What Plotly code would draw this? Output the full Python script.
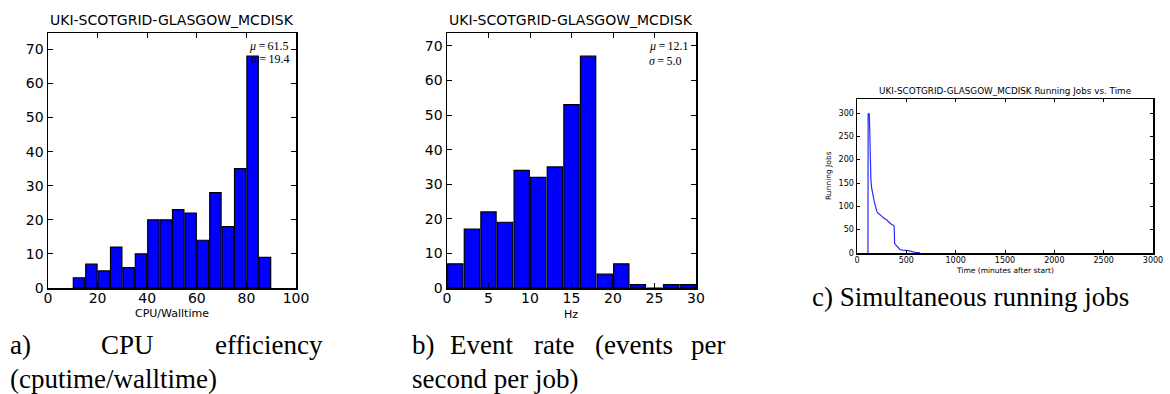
import plotly.graph_objects as go

W, H = 1170, 394

# ---- data ----
cpu_bin_left = [10, 15, 20, 25, 30, 35, 40, 45, 50, 55, 60, 65, 70, 75, 80, 85]
cpu_counts = [3, 7, 5, 12, 6, 10, 20, 20, 23, 22, 14, 28, 18, 35, 68, 9]
cpu_bin_w = 5

hz_bin_left = [0, 2, 4, 6, 8, 10, 12, 14, 16, 18, 20, 22, 24, 26, 28]
hz_counts = [7, 17, 22, 19, 34, 32, 35, 53, 67, 4, 7, 1, 0, 1, 1]
hz_bin_w = 2

run_time = [111, 113, 125, 128, 133, 141, 148, 155, 162, 169, 177, 185, 193, 202, 215,
            236, 255, 270, 290, 303, 320, 337, 350, 364, 372, 377, 379, 381, 390, 405,
            421, 430, 438, 460, 505, 520, 539, 555, 573, 600, 640]
run_jobs = [0, 298, 298, 260, 195, 156, 140, 128, 122, 117, 108, 100, 93, 89, 85,
            82, 78, 75, 73, 71, 67, 63, 61, 60, 59, 57, 40, 21, 18, 15,
            12, 10, 7, 6, 6, 5, 4, 3, 1.5, 1, 1]

title_site = "UKI-SCOTGRID-GLASGOW_MCDISK"

# ---- helpers (pixel -> paper) ----
def px(x):
    return x / W

def py(y):
    return 1 - y / H

fig = go.Figure()

fig.add_trace(go.Bar(
    x=[l + cpu_bin_w / 2 for l in cpu_bin_left], y=cpu_counts, width=cpu_bin_w * 0.92,
    marker=dict(color="#0000ff", line=dict(color="black", width=1.2)),
    xaxis="x", yaxis="y", showlegend=False, hoverinfo="skip"))
fig.add_trace(go.Bar(
    x=[l + hz_bin_w / 2 for l in hz_bin_left], y=hz_counts, width=hz_bin_w * 0.92,
    marker=dict(color="#0000ff", line=dict(color="black", width=1.2)),
    xaxis="x2", yaxis="y2", showlegend=False, hoverinfo="skip"))
fig.add_trace(go.Scatter(
    x=run_time, y=run_jobs, mode="lines", line=dict(color="#2a2aff", width=1.2),
    xaxis="x3", yaxis="y3", showlegend=False, hoverinfo="skip"))

sans = "DejaVu Sans"
serif = "Liberation Serif"

def axis(domain, rng, dtick, size, ticklen, anchor, standoff=0):
    return dict(domain=domain, range=rng, dtick=dtick, tick0=0, anchor=anchor,
                showgrid=False, zeroline=False, showline=True, linecolor="black",
                linewidth=1.5, mirror="ticks", ticks="inside", ticklen=ticklen,
                tickwidth=1, tickcolor="black", automargin=False,
                ticklabelstandoff=standoff,
                tickfont=dict(family=sans, size=size, color="black"))

fig.update_layout(
    width=W, height=H, margin=dict(l=0, r=0, t=0, b=0, autoexpand=False),
    paper_bgcolor="white", plot_bgcolor="white", bargap=0,
    xaxis=axis([px(48), px(296)], [0, 100], 20, 14, 5, "y", -3),
    yaxis=axis([py(288), py(33)], [0, 74.8], 10, 14, 5, "x"),
    xaxis2=axis([px(447), px(696)], [0, 30], 5, 14, 5, "y2", -3),
    yaxis2=axis([py(288), py(33)], [0, 73.7], 10, 14, 5, "x2"),
    xaxis3=axis([px(857), px(1153)], [0, 3000], 500, 8, 3, "y3", -1),
    yaxis3=axis([py(253), py(99)], [0, 330], 50, 8, 3, "x3"),
)

ann = []

def text(x, y, s, size, family=sans, xanchor="center", angle=0):
    ann.append(dict(x=px(x), y=py(y), xref="paper", yref="paper", text=s,
                    showarrow=False, xanchor=xanchor, yanchor="middle",
                    textangle=angle, font=dict(family=family, size=size, color="black")))

# titles
text(172, 20, title_site, 14)
text(571, 20, title_site, 14)
text(1005, 91, title_site + " Running Jobs vs. Time", 8.8)
# axis labels
text(172, 313, "CPU/Walltime", 11)
text(571, 314, "Hz", 11)
text(1005, 270, "Time (minutes after start)", 7.5)
text(828, 176, "Running Jobs", 7.5, angle=-90)
# stats
ts = "\u2009"
text(247, 46, f"<i>μ</i>{ts}={ts}61.5", 12, family=serif, xanchor="left")
text(249, 59, f"<i>σ</i>{ts}={ts}19.4", 12, family=serif, xanchor="left")
text(647, 46, f"<i>μ</i>{ts}={ts}12.1", 12, family=serif, xanchor="left")
text(647, 61, f"<i>σ</i>{ts}={ts}5.0", 12, family=serif, xanchor="left")
# captions
cap = 27
text(8, 345, "a)", cap, family=serif, xanchor="left")
text(99, 345, "CPU", cap, family=serif, xanchor="left")
text(325, 345, "efficiency", cap, family=serif, xanchor="right")
text(8, 379, "(cputime/walltime)", cap, family=serif, xanchor="left")
text(410, 345, "b)", cap, family=serif, xanchor="left")
text(448, 345, "Event", cap, family=serif, xanchor="left")
text(532, 345, "rate", cap, family=serif, xanchor="left")
text(593, 345, "(events", cap, family=serif, xanchor="left")
text(727, 345, "per", cap, family=serif, xanchor="right")
text(410, 379, "second per job)", cap, family=serif, xanchor="left")
text(810, 297, "c) Simultaneous running jobs", cap, family=serif, xanchor="left")

fig.update_layout(annotations=ann, hovermode=False)
fig.write_html("out.html", config={"displayModeBar": False, "staticPlot": True},
               post_script="document.body.style.margin='0';document.body.style.padding='0';"
                           "document.body.style.overflow='hidden';")
